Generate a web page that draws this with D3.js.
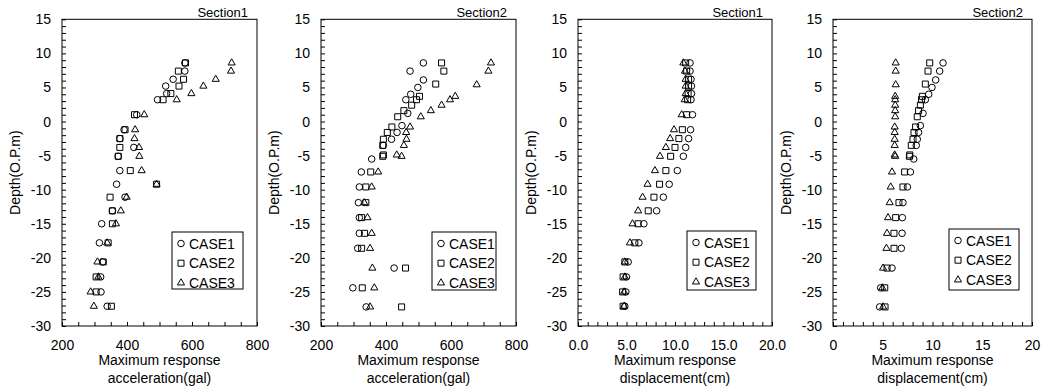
<!DOCTYPE html>
<html>
<head>
<meta charset="utf-8">
<script src="https://cdn.jsdelivr.net/npm/d3@7"></script>
<style>
body { margin: 0; background: #fff; }
svg { display: block; font-family: "Liberation Sans", Arial, sans-serif; }
</style>
</head>
<body>
<div id="chart"></div>
<script>
// Section1 nodes (same depths for all three cases)
var sec1Depth = [8.6, 7.4, 6.2, 5.2, 4.1, 3.2, 1.0, -1.2, -2.5, -3.8, -5.1, -7.2, -9.2, -11.1, -13.1, -15.0, -17.8, -20.6, -22.8, -25.0, -27.1];
var sec1AccCase1 = [578, 578, 542, 519, 522, 494, 430, 391, 378, 421, 373, 378, 368, 394, 355, 322, 315, 325, 319, 320, 339];
var sec1AccCase2 = [580, 558, 574, 560, 535, 511, 423, 394, 378, 378, 373, 410, 491, 348, 355, 355, 342, 327, 305, 305, 352];
var sec1AccCase3 = [722, 720, 673, 635, 598, 553, 453, 425, 423, 437, 438, 445, 491, 399, 381, 366, 339, 309, 312, 288, 298];
var sec1DispCase1 = [11.55, 11.55, 11.65, 11.7, 11.7, 11.65, 11.8, 11.6, 11.4, 11.1, 10.86, 10.24, 9.4, 8.8, 8.1, 6.79, 6.28, 5.17, 5.0, 4.93, 4.83];
var sec1DispCase2 = [11.1, 11.2, 11.4, 11.4, 11.35, 11.3, 11.2, 10.76, 10.4, 10.0, 9.55, 9.06, 8.41, 7.83, 7.24, 6.2, 5.86, 4.83, 4.65, 4.6, 4.65];
var sec1DispCase3 = [10.86, 11.03, 11.1, 11.1, 11.1, 11.0, 10.69, 9.9, 9.5, 9.06, 8.45, 7.93, 7.17, 6.66, 6.2, 5.62, 5.35, 4.83, 4.83, 4.75, 4.76];

// Section2 nodes differ per case
var sec2DepthCase1 = [8.6, 7.4, 6.1, 5.0, 4.0, 3.2, 1.2, -0.6, -1.6, -2.6, -3.5, -5.5, -7.4, -9.6, -11.9, -14.1, -16.4, -18.6, -21.5, -24.4, -27.2];
var sec2DepthCase2 = [8.6, 7.4, 5.5, 3.7, 3.2, 2.4, 1.6, 0.7, -0.8, -1.6, -2.6, -3.5, -4.9, -5.1, -7.4, -9.6, -11.9, -14.1, -16.4, -18.6, -21.5, -24.4, -27.2];
var sec2DepthCase3 = [8.6, 7.4, 5.4, 3.7, 3.2, 2.4, 1.6, 0.7, -0.8, -1.6, -2.6, -3.5, -4.9, -5.1, -7.4, -9.6, -11.9, -14.1, -16.4, -18.6, -21.5, -24.4, -27.2];
var sec2AccCase1 = [515, 474, 515, 498, 476, 461, 467, 449, 434, 417, 392, 356, 324, 318, 315, 318, 318, 313, 425, 298, 339];
var sec2AccCase2 = [571, 578, 553, 503, 494, 479, 455, 436, 418, 404, 392, 390, 392, 390, 353, 338, 338, 325, 334, 325, 460, 327, 448];
var sec2AccCase3 = [723, 715, 679, 613, 597, 571, 538, 507, 474, 462, 463, 455, 433, 448, 376, 356, 333, 343, 356, 351, 358, 364, 351];
var sec2DispCase1 = [11.06, 10.72, 10.32, 9.95, 9.62, 9.28, 9.05, 8.78, 8.6, 8.47, 8.37, 8.11, 7.78, 7.48, 7.03, 6.97, 6.94, 6.87, 5.93, 4.79, 4.69];
var sec2DispCase2 = [9.72, 9.55, 9.28, 8.98, 8.9, 8.78, 8.6, 8.47, 8.3, 8.14, 8.04, 7.87, 7.72, 7.68, 7.2, 7.03, 6.63, 6.3, 6.13, 6.13, 5.43, 5.2, 5.23];
var sec2DispCase3 = [6.3, 6.3, 6.3, 6.25, 6.25, 6.25, 6.25, 6.25, 6.2, 6.2, 6.2, 6.2, 6.2, 6.25, 5.93, 5.8, 5.7, 5.53, 5.43, 5.37, 5.03, 4.96, 5.03];

var caseNames = ["CASE1", "CASE2", "CASE3"];
var yLabel = "Depth(O.P.m)";

var W = 1041, H = 392;
var top0 = 19.3, bottom0 = 326;
var font = 14;

var symbols = [d3.symbolCircle, d3.symbolSquare, d3.symbolTriangle];
var symSizes = [34, 36, 22];

var panels = [
    {left: 62, right: 257, title: "Section1", xDomain: [200, 800], xMajor: 200, xMinor: 50, fmt: d3.format("d"),
     label: ["Maximum response", "acceleration(gal)"],
     depths: [sec1Depth, sec1Depth, sec1Depth], values: [sec1AccCase1, sec1AccCase2, sec1AccCase3],
     legend: {x: 172, y: 232, w: 71, h: 57}},
    {left: 321, right: 516, title: "Section2", xDomain: [200, 800], xMajor: 200, xMinor: 50, fmt: d3.format("d"),
     label: ["Maximum response", "acceleration(gal)"],
     depths: [sec2DepthCase1, sec2DepthCase2, sec2DepthCase3], values: [sec2AccCase1, sec2AccCase2, sec2AccCase3],
     legend: {x: 432, y: 232, w: 64, h: 58}},
    {left: 578, right: 772, title: "Section1", xDomain: [0, 20], xMajor: 5, xMinor: 1, fmt: d3.format(".1f"),
     label: ["Maximum response", "displacement(cm)"],
     depths: [sec1Depth, sec1Depth, sec1Depth], values: [sec1DispCase1, sec1DispCase2, sec1DispCase3],
     legend: {x: 687, y: 231, w: 69, h: 59}},
    {left: 833, right: 1032, title: "Section2", xDomain: [0, 20], xMajor: 5, xMinor: 1, fmt: d3.format("d"),
     label: ["Maximum response", "displacement(cm)"],
     depths: [sec2DepthCase1, sec2DepthCase2, sec2DepthCase3], values: [sec2DispCase1, sec2DispCase2, sec2DispCase3],
     legend: {x: 949, y: 229, w: 70, h: 61}}
];

var svg = d3.select("#chart").append("svg")
    .attr("width", W)
    .attr("height", H);

var y = d3.scaleLinear().domain([-30, 15]).range([bottom0, top0]);

panels.forEach(function(p) {
    var x = d3.scaleLinear().domain(p.xDomain).range([p.left, p.right]);
    var g = svg.append("g");

    // frame
    g.append("rect")
        .attr("x", p.left).attr("y", top0)
        .attr("width", p.right - p.left).attr("height", bottom0 - top0)
        .attr("fill", "none").attr("stroke", "#000").attr("stroke-width", 1);

    var yAxis = d3.axisLeft(y)
        .tickValues(d3.range(-30, 16, 1))
        .tickSize(-4)
        .tickPadding(11)
        .tickFormat(function(d) { return d % 5 === 0 ? d : ""; });
    var ya = g.append("g").attr("transform", "translate(" + p.left + ",0)").call(yAxis);

    var xt = d3.range(p.xDomain[0], p.xDomain[1] + p.xMinor / 2, p.xMinor);
    var xAxis = d3.axisBottom(x)
        .tickValues(xt)
        .tickSize(-4)
        .tickPadding(14)
        .tickFormat(function(d) {
            var r = (d - p.xDomain[0]) / p.xMajor;
            return Math.abs(r - Math.round(r)) < 1e-6 ? p.fmt(d) : "";
        });
    var xa = g.append("g").attr("transform", "translate(0," + bottom0 + ")").call(xAxis);

    [ya, xa].forEach(function(a) {
        a.select(".domain").remove();
        a.selectAll("line").attr("stroke", "#000");
        a.selectAll("text").attr("fill", "#000").style("font-size", font + "px");
    });

    // title
    g.append("text")
        .attr("x", p.right - 9).attr("y", 17)
        .attr("text-anchor", "end")
        .style("font-size", "13px")
        .text(p.title);

    // y label
    g.append("text")
        .attr("transform", "translate(" + (p.left - 42) + "," + ((top0 + bottom0) / 2) + ") rotate(-90)")
        .attr("text-anchor", "middle")
        .style("font-size", font + "px")
        .text(yLabel);

    // x label
    var cx = (p.left + p.right) / 2;
    g.append("text").attr("x", cx).attr("y", 365).attr("text-anchor", "middle")
        .style("font-size", font + "px").text(p.label[0]);
    g.append("text").attr("x", cx).attr("y", 383).attr("text-anchor", "middle")
        .style("font-size", font + "px").text(p.label[1]);

    // points
    p.values.forEach(function(vals, k) {
        var pts = vals.map(function(v, i) { return {v: v, d: p.depths[k][i]}; });
        g.selectAll(".pt" + k)
            .data(pts)
            .enter()
            .append("path")
            .attr("class", "pt" + k)
            .attr("d", d3.symbol().type(symbols[k]).size(symSizes[k]))
            .attr("transform", function(d) { return "translate(" + x(d.v) + "," + y(d.d) + ")"; })
            .attr("fill", "none")
            .attr("stroke", "#000")
            .attr("stroke-width", 1);
    });

    // legend
    var L = p.legend;
    var lg = g.append("g").attr("transform", "translate(" + L.x + "," + L.y + ")");
    lg.append("rect")
        .attr("width", L.w).attr("height", L.h)
        .attr("fill", "#fff").attr("stroke", "#000").attr("stroke-width", 1);
    caseNames.forEach(function(name, k) {
        var ey = 11.5 + k * 19.7;
        lg.append("path")
            .attr("d", d3.symbol().type(symbols[k]).size(symSizes[k]))
            .attr("transform", "translate(9," + ey + ")")
            .attr("fill", "none").attr("stroke", "#000");
        lg.append("text")
            .attr("x", 17).attr("y", ey).attr("dy", "0.358em")
            .style("font-size", font + "px")
            .text(name);
    });
});
</script>
</body>
</html>
